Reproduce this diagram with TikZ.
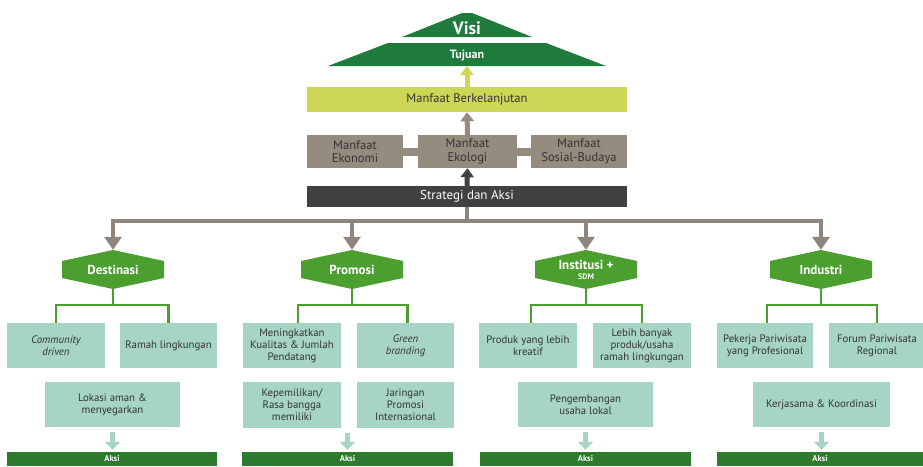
\documentclass[tikz,border=0pt]{standalone}
\usepackage{fontspec}
\setmainfont{PT Sans}
\usetikzlibrary{arrows.meta,calc}
\definecolor{dgreen}{HTML}{1E7B3C}
\definecolor{agreen}{HTML}{2E7A2E}
\definecolor{hgreen}{HTML}{4B9F2F}
\definecolor{mint}{HTML}{A7D5C5}
\definecolor{ygreen}{HTML}{CDD655}
\definecolor{mgray}{HTML}{958C80}
\definecolor{sdark}{HTML}{414042}
\definecolor{bgray}{HTML}{8E867C}
\definecolor{txt}{HTML}{333333}
\newcommand\myhex[4]{%
  \fill[hgreen] (#2-51,#3-8.5) -- (#2,#3-19.5) -- (#2+51,#3-8.5) -- (#2+51,#3+8.5) -- (#2,#3+19.5) -- (#2-51,#3+8.5) -- cycle;
  \node[hexnode] (#1) at (#2,#3) {#4};}
\begin{document}
\begin{tikzpicture}[x=1pt,y=-1pt,
  rect/.style={rectangle, inner sep=0pt, text=txt, align=center, font=\fontsize{12.5}{13.5}\selectfont},
  mbox/.style={rect, fill=mint, minimum height=45pt, font=\fontsize{10.8}{12}\selectfont},
  hexnode/.style={rectangle, inner sep=0pt, minimum width=102pt, minimum height=39pt, text=white, align=center, font=\bfseries\fontsize{13}{13}\selectfont},
  aksi/.style={rectangle, inner sep=0pt, fill=agreen, minimum height=14pt, text=white, font=\bfseries\fontsize{8.5}{9}\selectfont},
  toptext/.style={inner sep=0pt, text=white},
  uparrow/.style={line width=5pt, -{Triangle[width=13pt,length=9pt]}},
  brline/.style={draw=bgray, line width=4pt},
  brarrow/.style={brline, -{Triangle[width=17pt,length=13pt]}},
  gline/.style={draw=hgreen, line width=2.5pt},
  larrow/.style={draw=mint, line width=5pt, -{Triangle[width=15pt,length=8pt]}, shorten <=5pt, shorten >=2pt}
]
\useasboundingbox (0,0) rectangle (923,466);

% Visi and Tujuan
\fill[dgreen] (402,37) -- (462,13) -- (472,13) -- (532,37) -- cycle;
\node[toptext, font=\bfseries\fontsize{18}{18}\selectfont] (visi) at (467,28) {Visi};
\fill[dgreen] (328,66) -- (388,43) -- (546,43) -- (606,66) -- cycle;
\node[toptext, font=\bfseries\fontsize{12}{12}\selectfont] (tujuan) at (467,55) {Tujuan};
\coordinate (tjb) at (467,66);

% Manfaat
\node[rect, fill=ygreen, minimum width=320pt, minimum height=25pt] (mb) at (467,99.5) {Manfaat Berkelanjutan};
\node[rect, fill=mgray, minimum width=96pt, minimum height=33pt] (mek) at (355,151.5) {Manfaat\\Ekonomi};
\node[rect, fill=mgray, minimum width=99pt, minimum height=33pt] (mel) at (467.5,151.5) {Manfaat\\Ekologi};
\node[rect, fill=mgray, minimum width=96pt, minimum height=33pt] (msb) at (579,151.5) {Manfaat\\Sosial-Budaya};
\node[rect, fill=sdark, text=white, minimum width=320pt, minimum height=21pt, font=\fontsize{13}{13}\selectfont] (st) at (467,196.5) {Strategi dan Aksi};

\draw[mgray, line width=8pt] (mek.east) -- (mel.west);
\draw[mgray, line width=8pt] (mel.east) -- (msb.west);
\draw[uparrow, draw=ygreen] (mb.north) -- (tjb);
\draw[uparrow, draw=mgray] (mel.north) -- (mb.south);
\draw[uparrow, draw=sdark] (st.north) -- (mel.south);

% Hexagons
\myhex{de}{113}{269.5}{Destinasi}
\myhex{pr}{352}{269.5}{Promosi}
\myhex{in}{586}{269.5}{Institusi +\\[-3pt]{\fontsize{8}{8}\selectfont SDM}}
\myhex{id}{821}{269.5}{Industri}

% branch connectors
\draw[brline] (st.south) -- ++(0,14) coordinate (bj);
\draw[brarrow] (bj) -| (de.north);
\draw[brarrow] (bj) -| (pr.north);
\draw[brarrow] (bj) -| (in.north);
\draw[brarrow] (bj) -| (id.north);

% Destinasi
\node[mbox, minimum width=98pt] (cd) at (56,345.5) {\itshape Community\\\itshape driven};
\node[mbox, minimum width=97pt] (rl) at (168.5,345.5) {Ramah lingkungan};
\node[mbox, minimum width=135pt] (la) at (112.5,404.5) {Lokasi aman \&\\menyegarkan};
\node[aksi, minimum width=210pt] (ak1) at (112,459) {Aksi};
\draw[gline] (de.south) -- ++(0,16) coordinate (dej);
\draw[gline] (cd.north) |- (dej) -| (rl.north);
\draw[larrow] (la.south) -- (la.south |- ak1.north);

% Promosi
\node[mbox, minimum width=98pt] (mk) at (292,345.5) {Meningkatkan\\Kualitas \& Jumlah\\Pendatang};
\node[mbox, minimum width=97pt] (gb) at (405.5,345.5) {\itshape Green\\\itshape branding};
\node[mbox, minimum width=98pt, minimum height=46pt] (kp) at (292,405) {Kepemilikan/\\Rasa bangga\\memiliki};
\node[mbox, minimum width=97pt, minimum height=46pt] (jp) at (405.5,405) {Jaringan\\Promosi\\Internasional};
\node[aksi, minimum width=211pt] (ak2) at (347.5,459) {Aksi};
\draw[gline] (pr.south) -- ++(0,16) coordinate (prj);
\draw[gline] ([xshift=6pt]mk.north) |- (prj) -| ([xshift=2pt]gb.north);
\draw[larrow] (ak2.north |- kp.south) -- (ak2.north);

% Institusi
\node[mbox, minimum width=98pt] (pl) at (528,345.5) {Produk yang lebih\\kreatif};
\node[mbox, minimum width=98pt] (lb) at (642,345.5) {Lebih banyak\\produk/usaha\\ramah lingkungan};
\node[mbox, minimum width=135pt] (pu) at (585.5,404.5) {Pengembangan\\usaha lokal};
\node[aksi, minimum width=211pt] (ak3) at (585.5,459) {Aksi};
\draw[gline] (in.south) -- ++(0,16) coordinate (inj);
\draw[gline] ([xshift=3pt]pl.north) |- (inj) -| (lb.north);
\draw[larrow] (pu.south) -- (pu.south |- ak3.north);

% Industri
\node[mbox, minimum width=96pt] (pp) at (765,345.5) {Pekerja Pariwisata\\yang Profesional};
\node[mbox, minimum width=96pt] (fp) at (877,345.5) {Forum Pariwisata\\Regional};
\node[mbox, minimum width=137pt] (kk) at (821.5,404.5) {Kerjasama \& Koordinasi};
\node[aksi, minimum width=206pt] (ak4) at (820,459) {Aksi};
\draw[gline] (id.south) -- ++(0,16) coordinate (idj);
\draw[gline] ([xshift=2pt]pp.north) |- (idj) -| (fp.north);
\draw[larrow] (kk.south) -- (kk.south |- ak4.north);
\end{tikzpicture}
\end{document}
